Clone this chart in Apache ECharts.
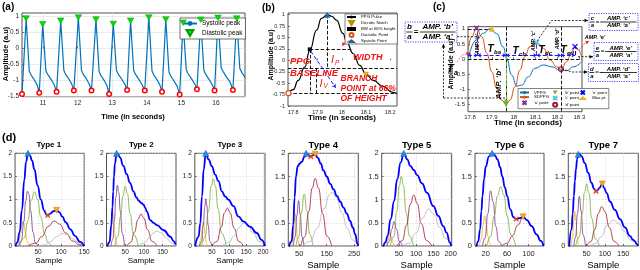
<!DOCTYPE html>
<html><head><meta charset="utf-8">
<script src="https://cdn.jsdelivr.net/npm/echarts/dist/echarts.min.js"></script>
<style>html,body{margin:0;padding:0;background:#fff}#c{width:640px;height:270px}</style>
</head><body><div id="c"></div><script>
// ---------------- Panel (a) data ----------------
const aTime = [10.39, 10.51,10.60,10.65,10.75,10.83,10.89, 10.99,11.08,11.13,11.23,11.32,11.39, 11.51,11.60,11.65,11.75,11.83,11.89, 12.02,12.11,12.16,12.26,12.34,12.40, 12.53,12.62,12.67,12.77,12.85,12.91, 13.03,13.12,13.17,13.27,13.36,13.43, 13.53,13.62,13.67,13.77,13.86,13.94, 14.06,14.15,14.20,14.30,14.38,14.44, 14.55,14.64,14.69,14.79,14.88,14.95, 15.05,15.14,15.19,15.29,15.38,15.45, 15.56,15.65,15.70,15.80,15.89,15.96, 16.06,16.15,16.21,16.31,16.41,16.49, 16.60,16.69,16.75,16.84];
const aAmp = [-1.42, 0.93,-0.70,-0.82,-0.98,-1.14,-1.38, 0.75,-0.69,-0.80,-0.96,-1.12,-1.35, 0.86,-0.68,-0.80,-0.96,-1.11,-1.31, 0.96,-0.68,-0.80,-0.96,-1.12,-1.31, 0.90,-0.72,-0.84,-1.00,-1.17,-1.42, 0.76,-0.68,-0.79,-0.95,-1.10,-1.29, 0.86,-0.68,-0.80,-0.96,-1.12,-1.31, 0.96,-0.70,-0.82,-0.98,-1.14,-1.35, 0.90,-0.73,-0.85,-1.02,-1.18,-1.43, 0.80,-0.66,-0.78,-0.94,-1.09,-1.27, 0.89,-0.68,-0.80,-0.96,-1.12,-1.31, 0.95,-0.60,-0.72,-0.90,-1.05,-1.29, 0.93,-0.62,-0.75,-0.90];
const aPeakTime = [10.51,10.99,11.51,12.02,12.53,13.03,13.53,14.06,14.55,15.05,15.56,16.06,16.60];
const aPeakAmp = [0.93,0.75,0.86,0.96,0.90,0.76,0.86,0.96,0.90,0.80,0.89,0.95,0.93];
const aTroughTime = [10.39,10.89,11.39,11.89,12.40,12.91,13.43,13.94,14.44,14.95,15.45,15.96,16.49];
const aTroughAmp = [-1.42,-1.38,-1.35,-1.31,-1.31,-1.42,-1.29,-1.31,-1.35,-1.43,-1.27,-1.31,-1.29];
const aXTicks = [11,12,13,14,15,16];
const aYTicks = [-1.5,-1,-0.5,0,0.5,1];

// ---------------- Panel (b) data ----------------
const bTime = [17.778,17.80,17.82,17.847,17.868,17.896,17.916,17.94,17.96,17.978,18.005,18.02,18.047,18.074,18.10,18.13,18.17,18.21,18.228];
const bAmp  = [-0.72,-0.64,-0.44,-0.15,0.22,0.66,0.92,1.0,0.96,0.88,0.59,0.40,0.15,-0.11,-0.30,-0.44,-0.57,-0.70,-0.73];
const bSystolic = [17.94, 1.0];
const bDiastolic = [17.78, -0.72];
const bNotch = [18.10, -0.31];
const bWidthPt = [17.868, 0.24];
const bDashed = [
  [[17.778,-0.17],[18.228,-0.17]],
  [[17.778,-0.72],[18.228,-0.72]],
  [[17.868,0.24],[18.04,0.24]],
  [[17.94,1.0],[17.94,-0.17]],
  [[17.868,0.24],[17.868,-0.72]],
  [[17.893,-0.17],[17.893,-0.72]]
];
const bBlueArrow = [[[17.872,0.2],[17.975,-0.6]]];
const bXTicks = [17.8,17.9,18,18.1,18.2];
const bYTicks = [-1,-0.75,-0.5,-0.25,0,0.25,0.5,0.75,1];

// ---------------- Panel (c) data ----------------
const cTime = [17.792,17.83,17.861,17.891,17.922,17.952,17.968,17.99,18.014,18.036,18.067,18.097,18.136,18.174,18.212,18.242,18.273,18.31];
const cVPPG = [0.02,0.63,0.85,1.0,0.84,0.40,0.02,-0.53,-0.90,-0.87,-0.59,-0.31,-0.20,-0.26,-0.37,-0.39,-0.26,-0.09];
const cTime2 = [17.792,17.808,17.83,17.854,17.877,17.90,17.922,17.945,17.965,17.983,18.006,18.028,18.05,18.074,18.105,18.136,18.166,18.197,18.216,18.242,18.265,18.28,18.295,18.31];
const cSDPPG = [0.30,0.74,1.02,0.74,0.19,-0.43,-0.98,-1.37,-1.50,-1.37,-0.92,-0.37,0.07,0.41,0.54,0.35,-0.04,-0.26,-0.34,-0.09,0.24,0.41,0.30,0.07];
const cA = [17.83,1.02], cB = [17.965,-1.5], cC = [18.105,0.54], cD = [18.216,-0.34], cE = [18.28,0.41], cMax = [17.9,1.0];
const cBlackDashed = [
  [[17.965,1.07],[17.965,-1.75]],
  [[18.216,1.07],[18.216,-1.75]],
  [[17.791,0],[18.312,0]],
  [[17.791,1.0],[17.9,1.0]]
];
const cPurpleDashed = [[[17.835,0.12],[17.835,1.0]],[[18.105,0.12],[18.105,0.54]]];
const cGreenDashed = [[[17.965,0.12],[17.965,-1.45]]];
const cBlueDashed = [[[18.28,0.12],[18.28,0.41]]];
const cTSegments = [[[17.79,0.12],[17.835,0.12]],[[17.835,0.12],[17.965,0.12]],[[17.965,0.12],[18.105,0.12]],[[18.105,0.12],[18.216,0.12]],[[18.216,0.12],[18.28,0.12]]];
const cXTicks = [17.8,17.9,18,18.1,18.2,18.3];
const cYTicks = [-1.5,-1,-0.5,0,0.5,1];

// ---------------- Panel (d) data ----------------
const t1Blue = [[1,0],[5,0.08],[10,0.3],[15,0.78],[20,1.42],[24,1.82],[28,2.0],[32,1.96],[37,1.84],[42,1.65],[49,1.3],[56,1.0],[63,0.77],[68,0.68],[71,0.66],[76,0.7],[83,0.75],[90,0.77],[96,0.73],[102,0.64],[110,0.51],[120,0.36],[130,0.22],[141,0.09],[150,0]];
const t1Orange = [[3,0],[8,0.06],[12,0.25],[15,0.45],[17,0.53],[19,0.49],[22,0.32],[26,0.1],[31,0]];
const t1Purple = [[8,0],[14,0.12],[19,0.52],[23,0.97],[27,1.18],[30,1.12],[34,0.75],[39,0.3],[44,0.07],[50,0]];
const t1Green = [[10,0],[20,0.17],[28,0.55],[35,0.98],[42,1.17],[49,1.0],[56,0.62],[64,0.26],[72,0.07],[80,0]];
const t1Red = [[28,0],[45,0.06],[58,0.2],[72,0.42],[85,0.54],[97,0.47],[110,0.28],[125,0.11],[140,0.03],[150,0.01]];
const t1Gray = [[48,0],[62,0.02],[76,0.09],[90,0.2],[102,0.27],[114,0.24],[126,0.15],[138,0.07],[150,0.02]];

const t2Blue = [[2,0],[8,0.08],[13,0.45],[16,0.85],[18,1.18],[20,1.5],[22.5,1.77],[27,2.0],[31,1.98],[36,1.91],[45,1.73],[54,1.55],[63,1.36],[72,1.18],[80,1.05],[86,0.98],[93,0.93],[99,0.89],[104,0.82],[108,0.74],[117,0.56],[126,0.5],[135,0.45],[153,0.34],[171,0.2],[180,0.1],[185,0.03]];
const t2Orange = [[5,0],[9,0.15],[12,0.45],[14.5,0.7],[16,0.76],[18,0.68],[21,0.4],[24,0.14],[28,0]];
const t2Purple = [[12,0],[17,0.15],[21,0.55],[25,1.05],[29,1.31],[33,1.15],[37,0.75],[42,0.28],[48,0]];
const t2Green = [[22,0],[30,0.2],[38,0.65],[44,1.08],[50,1.29],[56,1.13],[63,0.7],[72,0.26],[85,0]];
const t2Red = [[55,0],[65,0.08],[75,0.3],[84,0.57],[92,0.69],[100,0.6],[110,0.35],[122,0.1],[135,0]];
const t2Gray = [[85,0],[100,0.06],[115,0.18],[125,0.28],[135,0.32],[147,0.28],[160,0.17],[173,0.07],[186,0.01]];

const t3Blue = [[1,0],[11,0.2],[16,0.49],[21,1.07],[26,1.65],[32,2.0],[40,1.87],[50,1.72],[59.5,1.54],[69,1.4],[79,1.18],[88.5,1.07],[98,1.0],[113,0.86],[127,0.64],[142,0.53],[161,0.42],[181,0.28],[195,0.13],[205,0]];
const t3Orange = [[12,0],[17,0.12],[21,0.35],[24,0.52],[27,0.45],[30,0.25],[34,0.06],[38,0]];
const t3Purple = [[14,0],[20,0.1],[25,0.45],[29,0.85],[32,1.02],[35,0.88],[39,0.45],[44,0.1],[50,0]];
const t3Green = [[20,0],[30,0.2],[40,0.75],[48,1.3],[54,1.45],[60,1.3],[68,0.8],[78,0.28],[92,0]];
const t3Red = [[50,0],[65,0.1],[77,0.4],[87,0.72],[95,0.82],[103,0.72],[115,0.38],[128,0.1],[142,0]];
const t3Gray = [[80,0],[100,0.08],[115,0.22],[130,0.4],[143,0.5],[155,0.44],[170,0.28],[188,0.1],[205,0.02]];

const t4Blue = [[13,0],[22,0.1],[28,0.45],[33,1.05],[38,1.5],[44,1.72],[52,1.78],[60,1.82],[68,1.92],[75,2.0],[84,1.96],[92,1.93],[100,1.96],[108,1.98],[118,1.9],[128,1.78],[138,1.63],[150,1.5],[163,1.34],[175,1.22],[187,1.08],[199,0.96],[211,0.83],[223,0.7],[235,0.54],[245,0.4],[254,0.25],[262,0.05],[264,0]];
const t4Orange = [[22,0],[28,0.15],[32,0.48],[35.5,0.7],[39,0.5],[43,0.15],[48,0]];
const t4Purple = [[28,0],[35,0.2],[41,0.65],[47.5,0.98],[53,0.7],[60,0.2],[67,0]];
const t4Green = [[38,0],[48,0.2],[57,0.7],[68,1.12],[78,0.75],[88,0.25],[100,0]];
const t4Red = [[55,0],[70,0.2],[85,0.75],[97,1.25],[108,1.46],[120,1.25],[135,0.7],[150,0.22],[168,0]];
const t4Gray = [[60,0],[90,0.1],[115,0.38],[140,0.8],[160,1.1],[170,1.16],[185,1.05],[205,0.72],[225,0.38],[245,0.13],[262,0.02]];

const t5Blue = [[5,0],[11,0.08],[17,0.22],[26,0.58],[36,0.97],[45,1.44],[55,1.8],[64,2.0],[74,1.87],[83,1.73],[93,1.64],[102.6,1.53],[117,1.35],[131,1.15],[150,0.86],[164,0.65],[178.6,0.43],[188,0.29],[198,0.07],[202,0]];
const t5Orange = [[12,0],[17,0.08],[21,0.22],[24,0.29],[27,0.22],[31,0.08],[36,0]];
const t5Purple = [[15,0],[22,0.1],[29,0.36],[36,0.53],[43,0.36],[51,0.1],[60,0]];
const t5Green = [[25,0],[35,0.2],[44,0.75],[51,1.3],[57,1.5],[63,1.3],[71,0.72],[80,0.22],[92,0]];
const t5Red = [[45,0],[60,0.12],[72,0.45],[83,0.9],[93,1.1],[103,0.92],[115,0.48],[130,0.12],[145,0]];
const t5Gray = [[60,0],[80,0.06],[100,0.28],[118,0.6],[136,0.8],[152,0.68],[168,0.4],[185,0.16],[203,0.04]];

const t6Blue = [[3,0],[6,0.1],[9.5,0.36],[12,0.75],[14,1.08],[17,1.45],[20,1.71],[26,1.93],[32,2.0],[37,1.96],[42,1.87],[47,1.7],[51,1.5],[56,1.26],[60,1.08],[66,0.79],[72,0.62],[77,0.58],[83,0.6],[90,0.63],[97,0.56],[106,0.43],[115,0.25],[123,0.11],[128,0]];
const t6Orange = [[8,0],[12,0.15],[15,0.45],[18,0.65],[21,0.5],[24,0.22],[27,0.06],[31,0]];
const t6Purple = [[14,0],[19,0.18],[24,0.7],[29,1.19],[34,0.95],[39,0.42],[44,0.1],[50,0]];
const t6Green = [[22,0],[29,0.2],[36,0.65],[42,1.08],[48,1.28],[54,1.1],[60,0.65],[67,0.24],[76,0]];
const t6Red = [[50,0],[60,0.06],[70,0.22],[80,0.45],[90,0.62],[97,0.56],[106,0.43],[115,0.25],[123,0.11],[128,0]];

const t7Blue = [[2.5,0],[9,0.36],[12,0.7],[15.3,1.08],[18,1.4],[20.8,1.65],[24,1.87],[27,1.97],[31,1.98],[36,1.94],[45,1.79],[54,1.58],[63.6,1.36],[70,1.24],[75.4,1.18],[80,1.2],[84.5,1.25],[92.6,1.34],[98,1.25],[104.6,1.14],[113.7,0.96],[127,0.78],[141,0.58],[154.6,0.4],[168,0.22],[177,0.13],[182,0.1],[186.6,0.04],[191,0]];
const t7Orange = [[8,0],[12,0.2],[15,0.55],[18,0.74],[21,0.55],[24,0.2],[28,0.03],[31,0]];
const t7Purple = [[15,0],[20,0.2],[25,0.7],[30,1.07],[35,0.75],[40,0.25],[47,0]];
const t7Green = [[20,0],[30,0.2],[38,0.7],[44,1.15],[50,1.34],[56,1.15],[64,0.6],[74,0.15],[85,0]];
const t7Red = [[50,0],[62,0.1],[72,0.35],[82,0.7],[91,0.85],[100,0.74],[112,0.4],[125,0.1],[138,0]];
const t7Gray = [[60,0],[75,0.06],[90,0.2],[105,0.44],[123,0.56],[138,0.48],[152,0.32],[170,0.13],[191,0.02]];

const dPeaks = [[28,2.0],[27,2.0],[32,2.0],[75,2.0],[64,2.0],[32,2.0],[27,1.98]];
const dNotches = [[71,0.66],null,null,[92,1.93],null,[77,0.58],[75.4,1.18]];
const dDiastolic = [[90,0.77],null,null,[108,1.98],null,[90,0.63],[92.6,1.34]];
const dTitles = ['Type 1','Type 2','Type 3','Type 4','Type 5','Type 6','Type 7'];
const dXRange = [[0,150],[0,186],[0,205],[10,265],[0,203],[0,129],[0,191]];
const dXTicks = [[50,100,150],[50,100,150],[50,100,150,200],[50,150,250],[50,100,150,200],[20,60,100],[50,100,150]];
const dYTicks = [0,0.5,1,1.5,2];

// ---------------- build ----------------
const FONT = '"Liberation Sans", Arial, Helvetica, sans-serif';
const AX = '#262626';
const fmt = v => String(Math.round(v*1000)/1000);
const grids = [], xAxes = [], yAxes = [], series = [], legends = [], graphics = [];

function addGrid(l,t,w,h){ grids.push({left:l, top:t, width:w, height:h, show:true, borderColor:AX, borderWidth:0.8, backgroundColor:'#fff', containLabel:false}); return grids.length-1; }
function axis(gi, min, max, ticks, fs, gridOn, margin){
  return {type:'value', gridIndex:gi, min:min, max:max,
    axisLine:{show:false},
    axisTick:{show:true, inside:true, length:2, customValues:ticks, lineStyle:{color:AX, width:0.6}},
    axisLabel:{show:true, fontSize:fs, color:AX, margin:margin, fontFamily:FONT, customValues:ticks, formatter:fmt},
    splitLine:{show:gridOn, lineStyle:{color:'#dedede', width:0.6}}};
}
function lineS(gi, name, data, color, width, smooth){
  return {type:'line', name:name, xAxisIndex:gi, yAxisIndex:gi, data:data, showSymbol:false, symbol:'none', smooth:smooth||false, smoothMonotone: smooth ? 'x' : undefined,
    lineStyle:{color:color, width:width}, itemStyle:{color:color}, silent:true, z:2};
}
function scatS(gi, name, data, symbol, size, fill, stroke, bw){
  return {type:'scatter', name:name, xAxisIndex:gi, yAxisIndex:gi, data:data, symbol:symbol, symbolSize:size,
    itemStyle:{color:fill, borderColor:stroke, borderWidth:bw||0, opacity:1}, silent:true, z:5};
}
function linesS(gi, segs, color, dash, width, sym){
  return {type:'lines', coordinateSystem:'cartesian2d', xAxisIndex:gi, yAxisIndex:gi, polyline:false, silent:true,
    symbol: sym || ['none','none'], symbolSize:3.5, lineStyle:{color:color, type:dash, width:width, opacity:1},
    data: segs.map(s => ({coords:s})), z:4};
}
function txt(x,y,text,fs,o){
  o = o || {};
  return {type:'text', x:x, y:y, rotation:o.rot||0, z:50,
    style:{text:text, fontSize:fs, fontFamily:FONT, fontWeight:o.bold?'bold':'normal', fontStyle:o.italic?'italic':'normal',
      fill:o.color||'#000', align:o.align||'center', verticalAlign:o.valign||'middle'}};
}
function arrow(pts, color, dash, head){
  const els = [{type:'polyline', z:40, shape:{points:pts}, style:{stroke:color, lineWidth:0.8, lineDash:dash||null, fill:null}}];
  if (head){
    const p1 = pts[pts.length-2], p2 = pts[pts.length-1];
    const a = Math.atan2(p2[1]-p1[1], p2[0]-p1[0]), L = 3.5, W = 1.8;
    els.push({type:'polygon', z:40, shape:{points:[[p2[0],p2[1]],
      [p2[0]-L*Math.cos(a)+W*Math.sin(a), p2[1]-L*Math.sin(a)-W*Math.cos(a)],
      [p2[0]-L*Math.cos(a)-W*Math.sin(a), p2[1]-L*Math.sin(a)+W*Math.cos(a)]]}, style:{fill:color}});
  }
  return els;
}
function fracBox(x,y,w,h,letter,fs){
  const els = [];
  els.push({type:'rect', z:45, shape:{x:x,y:y,width:w,height:h}, style:{fill:'#fff', stroke:'#3c3cf0', lineWidth:0.9, lineDash:[1.2,1.2]}});
  const my = y + h/2, lx = x + fs*0.55, off = fs*0.6;
  els.push(txt(lx, my-off, letter, fs, {bold:true, italic:true}));
  els.push(txt(lx, my+off, 'a', fs, {bold:true, italic:true}));
  els.push({type:'line', z:50, shape:{x1:lx-fs*0.4, y1:my, x2:lx+fs*0.4, y2:my}, style:{stroke:'#000', lineWidth:0.8}});
  const ex = lx + fs*0.85;
  els.push(txt(ex, my, '=', fs, {bold:true}));
  const rx0 = ex + fs*0.45, rx1 = x + w - 1.5, cx = (rx0+rx1)/2;
  els.push(txt(cx, my-off, "AMP. \u2018"+letter+"\u2019", fs, {bold:true, italic:true}));
  els.push(txt(cx, my+off, "AMP. \u2018a\u2019", fs, {bold:true, italic:true}));
  els.push({type:'line', z:50, shape:{x1:rx0, y1:my, x2:rx1, y2:my}, style:{stroke:'#000', lineWidth:0.8}});
  return els;
}
const zip = (xs, ys) => xs.map((x,i) => [x, ys[i]]);
const invTri = 'path://M0,0L10,0L5,8.66Z';
const xMark = 'path://M0,0L10,10M10,0L0,10';

// ---- Panel (a)
const ga = addGrid(22, 13, 223, 83.7);
xAxes.push(axis(ga, 10.39, 16.84, aXTicks, 6.5, true, 3));
yAxes.push(axis(ga, -1.5, 1.1, aYTicks, 6.5, true, 3));
series.push(lineS(ga, 'Systolic peak', zip(aTime, aAmp), '#0072BD', 1.2, false));
series.push(scatS(ga, 'Diastolic peak', zip(aPeakTime, aPeakAmp), invTri, [6.5,5.5], '#00e000', '#00a000', 0.5));
series.push(scatS(ga, 'a-trough', zip(aTroughTime, aTroughAmp), 'circle', 4.5, '#fff', '#ff0000', 1.5));
legends.push({data:['Systolic peak','Diastolic peak'], left:180, top:18, orient:'vertical', itemWidth:14, itemHeight:6, itemGap:2,
  padding:[2,3,2,2], backgroundColor:'#fff', borderColor:'#333', borderWidth:0.7, textStyle:{fontSize:6.5, fontFamily:FONT, color:'#000'}, selectedMode:false});
graphics.push(txt(2, 7, '(a)', 10, {bold:true, align:'left'}));
graphics.push(txt(133, 117, 'Time (in seconds)', 7.5, {bold:true}));
graphics.push(txt(5.5, 54, 'Amplitude (a.u)', 7.5, {bold:true, rot:Math.PI/2}));

// ---- Panel (b)
const gb = addGrid(288, 13, 109, 93);
xAxes.push(axis(gb, 17.778, 18.228, bXTicks, 5.5, false, 3));
yAxes.push(axis(gb, -1, 1.037, bYTicks, 5.5, false, 3));
series.push(linesS(gb, bDashed, '#000', 'dashed', 0.9));
series.push(linesS(gb, bBlueArrow, '#1a1aff', 'dashed', 1, ['none','arrow']));
series.push(lineS(gb, 'PPG Pulse', zip(bTime, bAmp), '#000', 1.2, true));
series.push(scatS(gb, 'Dicrotic Notch', [bNotch], invTri, 5, '#EDB120', '#c08a00', 0.4));
series.push(scatS(gb, 'BW at 66% height', [bWidthPt], 'rect', 4, '#000', '#000', 0));
series.push(scatS(gb, 'Diastolic Point', [bDiastolic], 'circle', 5, '#fff', '#D95319', 1.2));
series.push(scatS(gb, 'Systolic Point', [bSystolic], 'triangle', 6, '#0072BD', '#0072BD', 0));
legends.push({data:['PPG Pulse','Dicrotic Notch','BW at 66% height','Diastolic Point','Systolic Point'], left:345, top:14, orient:'vertical',
  itemWidth:9, itemHeight:4, itemGap:1, padding:[1,2,1,1], backgroundColor:'#fff', borderColor:'#333', borderWidth:0.6,
  textStyle:{fontSize:4.3, fontFamily:FONT, color:'#000'}, selectedMode:false});
graphics.push(txt(262, 8, '(b)', 10, {bold:true, align:'left'}));
graphics.push(txt(342, 117.5, 'Time (in seconds)', 8, {bold:true}));
graphics.push(txt(271.5, 55, 'Amplitude (a.u)', 7, {bold:true, rot:Math.PI/2}));
const RED = '#f01414';
graphics.push(txt(290, 61.5, 'PPG', 9.5, {bold:true, italic:true, color:RED, align:'left'}));
graphics.push(txt(290, 73.5, 'BASELINE', 9.5, {bold:true, italic:true, color:RED, align:'left'}));
graphics.push(txt(331, 60, 'I', 11, {italic:true, color:RED, align:'left'}));
graphics.push(txt(335, 63, 'P', 6.5, {italic:true, color:RED, align:'left'}));
graphics.push(txt(319.5, 83.5, 'I', 11, {italic:true, color:RED, align:'left'}));
graphics.push(txt(323.5, 86.5, 'V', 6.5, {italic:true, color:RED, align:'left'}));
graphics.push(txt(353, 57.5, 'WIDTH', 9, {bold:true, italic:true, color:RED, align:'left'}));
graphics.push(txt(340.5, 79, 'BRANCH', 8.5, {bold:true, italic:true, color:RED, align:'left'}));
graphics.push(txt(340.5, 89, 'POINT at 66%', 8.5, {bold:true, italic:true, color:RED, align:'left'}));
graphics.push(txt(340.5, 98.5, 'OF HEIGHT', 8.5, {bold:true, italic:true, color:RED, align:'left'}));
graphics.push(...arrow([[356.5,44],[351,40.5],[345,42],[342,46]], RED, [1,1], true));

// ---- Panel (c)
const gc = addGrid(468, 26.7, 114, 85);
xAxes.push(axis(gc, 17.791, 18.312, cXTicks, 6, false, 3));
yAxes.push(axis(gc, -1.75, 1.07, cYTicks, 6, false, 3));
series.push(linesS(gc, cBlackDashed, '#000', 'dashed', 0.9));
series.push(linesS(gc, cPurpleDashed, '#7E2F8E', 'dashed', 1.1));
series.push(linesS(gc, cGreenDashed, '#77AC30', 'dashed', 1.1, ['none','arrow']));
series.push(linesS(gc, cBlueDashed, '#0000ff', 'dashed', 1.1));
series.push(linesS(gc, cTSegments, '#1a1aff', 'dashed', 1.0, ['arrow','arrow']));
series.push(lineS(gc, 'VPPG', zip(cTime, cVPPG), '#0072BD', 1, true));
series.push(lineS(gc, 'SDPPG', zip(cTime2, cSDPPG), '#D95319', 1, true));
series.push(scatS(gc, "'a' point", [cA], xMark, 5, 'rgba(0,0,0,0)', '#7E2F8E', 1.3));
series.push(scatS(gc, "'b' point", [cB], invTri, 6, '#77AC30', '#77AC30', 0));
series.push(scatS(gc, "'c' point", [cC], xMark, 5, 'rgba(0,0,0,0)', '#4DBEEE', 1.3));
series.push(scatS(gc, "'d' point", [cD], 'circle', 5, 'rgba(0,0,0,0)', '#A2142F', 1.1));
series.push(scatS(gc, "'e' point", [cE], xMark, 5, 'rgba(0,0,0,0)', '#0000ff', 1.3));
series.push(scatS(gc, 'Max pt.', [cMax], 'triangle', 6, '#EDB120', '#EDB120', 0));
legends.push({data:['VPPG','SDPPG',"'a' point","'b' point","'c' point","'d' point","'e' point",'Max pt.'], left:518, top:88.5, height:20, orient:'vertical',
  itemWidth:9, itemHeight:4, itemGap:0.6, padding:[1,2,1,1], backgroundColor:'#fff', borderColor:'#333', borderWidth:0.6,
  textStyle:{fontSize:4.3, fontFamily:FONT, color:'#000'}, selectedMode:false});
graphics.push(txt(433, 7, '(c)', 10, {bold:true, align:'left'}));
graphics.push(txt(528, 123, 'Time (in seconds)', 8, {bold:true}));
graphics.push(txt(451.5, 64, 'Amplitude (a.u)', 7, {bold:true, rot:Math.PI/2}));
graphics.push(...fracBox(405, 22, 52, 20, 'b', 8));
graphics.push(...fracBox(589, 13.5, 49, 17, 'c', 6));
graphics.push(...fracBox(594, 42.5, 44, 18, 'e', 6));
graphics.push(...fracBox(588.5, 63.5, 50, 18, 'd', 6));
graphics.push(...arrow([[443.5,98],[443.5,44]], '#000', [2,1.5], true));
graphics.push(...arrow([[443.5,98],[506,98]], '#000', [2,1.5], false));
graphics.push(...arrow([[457,36.7],[477,36.7]], '#000', [2,1.5], false));
graphics.push(...arrow([[537,41],[551.5,20.5],[588,20.5]], '#000', [2,1.5], true));
graphics.push(...arrow([[578,56.7],[593,56.7]], '#000', [2,1.5], true));
graphics.push(...arrow([[562,69],[572,72],[587.5,72]], '#000', [2,1.5], true));
graphics.push(...arrow([[457,62],[462,55],[470,53]], RED, [1,1], true));
graphics.push(...arrow([[579,50],[584,44],[589,41]], RED, [1,1], true));
graphics.push(txt(447, 69, 'T', 11, {bold:true, italic:true, align:'left'}));
graphics.push(txt(454, 73, 'a', 7, {bold:true, italic:true, align:'left'}));
graphics.push(txt(487.5, 49, 'T', 10, {bold:true, italic:true, align:'left'}));
graphics.push(txt(494, 52.5, 'ba', 6, {bold:true, italic:true, align:'left'}));
graphics.push(txt(512.5, 51, 'T', 10, {bold:true, italic:true, align:'left'}));
graphics.push(txt(519, 54.5, 'cb', 6, {bold:true, italic:true, align:'left'}));
graphics.push(txt(538.5, 50, 'T', 10, {bold:true, italic:true, align:'left'}));
graphics.push(txt(545, 53.5, 'dc', 6, {bold:true, italic:true, align:'left'}));
graphics.push(txt(560.5, 50, 'T', 10, {bold:true, italic:true, align:'left'}));
graphics.push(txt(567, 53.5, 'ed', 6, {bold:true, italic:true, align:'left'}));
graphics.push(txt(477, 44, "AMP. \u2018a\u2019", 5.5, {bold:true, italic:true, rot:Math.PI/2}));
graphics.push(txt(498.5, 84, "AMP. \u2018b\u2019", 8, {bold:true, italic:true, rot:Math.PI/2}));
graphics.push(txt(533, 41, "AMP. \u2018c\u2019", 5.5, {bold:true, italic:true, rot:Math.PI/2}));
graphics.push(txt(557.5, 39, "AMP. \u2018d\u2019", 5.5, {bold:true, italic:true, rot:Math.PI/2}));
graphics.push(txt(595, 37, "AMP. \u2018e\u2019", 5.5, {bold:true, italic:true}));

// ---- Panel (d)
const dGridPos = [[13.5,70.7],[106.5,69.5],[194.8,70.2],[288.3,70],[381.7,70],[475,69],[568.3,70]];
const dData = [
  [t1Blue,[t1Orange,t1Purple,t1Green,t1Red,t1Gray]],
  [t2Blue,[t2Orange,t2Purple,t2Green,t2Red,t2Gray]],
  [t3Blue,[t3Orange,t3Purple,t3Green,t3Red,t3Gray]],
  [t4Blue,[t4Orange,t4Purple,t4Green,t4Red,t4Gray]],
  [t5Blue,[t5Orange,t5Purple,t5Green,t5Red,t5Gray]],
  [t6Blue,[t6Orange,t6Purple,t6Green,t6Red]],
  [t7Blue,[t7Orange,t7Purple,t7Green,t7Red,t7Gray]]
];
const compColors = ['#EDB120','#7E2F8E','#77AC30','#A2142F','#b5b5b5'];
graphics.push(txt(2, 138, '(d)', 11, {bold:true, align:'left'}));
dData.forEach((dd, k) => {
  const [l, w] = dGridPos[k];
  const big = k >= 3;
  const gi = addGrid(l, 153.3, w, 92.7);
  const xa = axis(gi, dXRange[k][0], dXRange[k][1], dXTicks[k], big ? 7.5 : 6.5, true, big ? 4 : 3);
  xa.splitLine.lineStyle = {color:'#d0d0d0', width:0.6, type:[1.5,1.5]};
  const ya = axis(gi, 0, 2, dYTicks, big ? 7.5 : 6.5, true, 3);
  ya.splitLine.lineStyle = {color:'#d0d0d0', width:0.6, type:[1.5,1.5]};
  xAxes.push(xa); yAxes.push(ya);
  dd[1].forEach((c, j) => series.push(lineS(gi, 'comp'+k+'_'+j, c, compColors[j], 0.8, true)));
  series.push(lineS(gi, 'sum'+k, dd[0], '#0000ff', 1.8, true));
  series.push(scatS(gi, 'pk'+k, [dPeaks[k]], 'triangle', 6, '#2b8de0', '#1050c0', 0.5));
  if (dNotches[k]) series.push(scatS(gi, 'nt'+k, [dNotches[k]], xMark, 4.5, 'rgba(0,0,0,0)', '#e8401c', 1.3));
  if (dDiastolic[k]) series.push(scatS(gi, 'dp'+k, [dDiastolic[k]], invTri, 6, '#f5a623', '#e07b00', 0.5));
  const cx = l + w/2;
  graphics.push(txt(cx, 145, dTitles[k], big ? 9.5 : 8, {bold:true}));
  graphics.push(txt(cx, big ? 265 : 260.5, 'Sample', big ? 9.5 : 8));
});

const chart = echarts.init(document.getElementById('c'), null, {renderer:'canvas'});
chart.setOption({
  animation:false, backgroundColor:'#fff', textStyle:{fontFamily:FONT},
  grid:grids, xAxis:xAxes, yAxis:yAxes, legend:legends, series:series, graphic:{elements:graphics}
});
</script></body></html>
